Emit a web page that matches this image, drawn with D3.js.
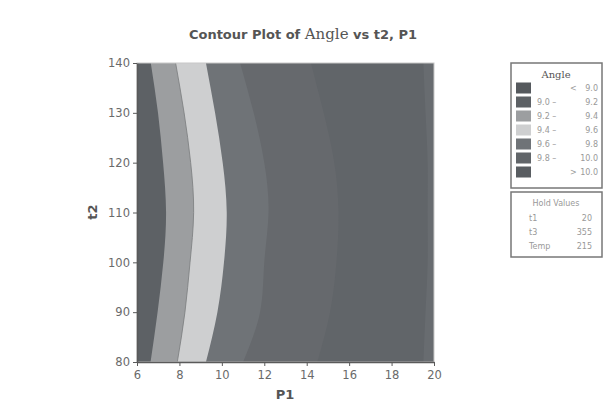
<!DOCTYPE html>
<html>
<head>
<meta charset="utf-8">
<script src="https://cdn.jsdelivr.net/npm/d3@7"></script>
<style>
  html, body { margin: 0; padding: 0; background: #fff; }
  svg { display: block; }
</style>
</head>
<body>
<svg id="chart" width="609" height="408"></svg>
<script>
// contour boundaries: P1 position of each level at t2 = 80..140
const t2Levels = [80, 90, 100, 110, 120, 130, 140];
const boundA = [6.64, 6.97, 7.24, 7.37, 7.23, 6.99, 6.65];    // 9.2
const boundB = [7.90, 8.26, 8.50, 8.67, 8.53, 8.22, 7.82];    // 9.4
const boundC = [9.25, 9.79, 10.10, 10.23, 10.04, 9.68, 9.25]; // 9.6
const boundD = [11.0, 11.8, 12.0, 12.2, 12.0, 11.5, 10.86];   // 9.8
const boundE = [14.5, 15.1, 15.4, 15.5, 15.3, 14.8, 14.2];    // 10.0
const boundF = [19.5, 19.6, 19.7, 19.7, 19.7, 19.6, 19.5];

const bandColors = ["#5d6165", "#9c9ea0", "#cecfd0", "#6f7377", "#66696d", "#616569", "#686c70"];

const legendLabels = [["<", "9.0"], ["9.0 –", "9.2"], ["9.2 –", "9.4"], ["9.4 –", "9.6"],
  ["9.6 –", "9.8"], ["9.8 –", "10.0"], [">", "10.0"]];
const legendColors = ["#55595d", "#5d6165", "#9c9ea0", "#cecfd0", "#6f7377", "#616569", "#595d61"];
const holdNames = ["t1", "t3", "Temp"];
const holdValues = ["20", "355", "215"];

const xTicks = [6, 8, 10, 12, 14, 16, 18, 20];
const yTicks = [80, 90, 100, 110, 120, 130, 140];

const svg = d3.select("#chart");
const x = d3.scaleLinear().domain([6, 20]).range([137, 434]);
const y = d3.scaleLinear().domain([80, 140]).range([362, 63]);

const plot = svg.append("g");
plot.append("rect")
  .attr("x", x(6)).attr("y", y(140))
  .attr("width", x(20) - x(6)).attr("height", y(80) - y(140))
  .attr("fill", bandColors[6]);

const area = d3.area()
  .y(d => y(d[0]))
  .x0(x(6))
  .x1(d => x(d[1]))
  .curve(d3.curveNatural);

const bounds = [boundA, boundB, boundC, boundD, boundE, boundF];
for (let i = bounds.length - 1; i >= 0; i--) {
  const pts = t2Levels.map((t, j) => [t, bounds[i][j]]);
  plot.append("path").attr("d", area(pts)).attr("fill", bandColors[i]);
}
// thin dark rim between the 9.2-9.4 and 9.4-9.6 bands
plot.append("path")
  .attr("d", d3.line().y(d => y(d[0])).x(d => x(d[1])).curve(d3.curveNatural)(t2Levels.map((t, j) => [t, boundB[j]])))
  .attr("fill", "none").attr("stroke", "#7a7c7e").attr("stroke-width", 0.8);

// frame
plot.append("rect")
  .attr("x", x(6)).attr("y", y(140))
  .attr("width", x(20) - x(6)).attr("height", y(80) - y(140))
  .attr("fill", "none").attr("stroke", "#c8c8c8").attr("stroke-width", 1);

const font = "DejaVu Sans, Verdana, sans-serif";
const xAxis = svg.append("g").attr("transform", `translate(0,${y(80)})`)
  .call(d3.axisBottom(x).tickValues(xTicks).tickSize(4).tickSizeOuter(0).tickFormat(d3.format("d")));
const yAxis = svg.append("g").attr("transform", `translate(${x(6)},0)`)
  .call(d3.axisLeft(y).tickValues(yTicks).tickSize(4).tickSizeOuter(0).tickFormat(d3.format("d")));
[xAxis, yAxis].forEach(a => {
  a.select(".domain").attr("stroke", "#5a5a5a").attr("stroke-width", 1.5);
  a.selectAll(".tick line").attr("stroke", "#5a5a5a");
  a.selectAll(".tick text").attr("fill", "#6a6a6a").attr("font-family", font).attr("font-size", 11.5);
});
xAxis.selectAll(".tick text").attr("dy", "0.9em");

svg.append("text").attr("x", 285).attr("y", 399).attr("text-anchor", "middle")
  .attr("font-family", font).attr("font-size", 13).attr("font-weight", "bold").attr("fill", "#555")
  .text("P1");
svg.append("text").attr("transform", "translate(97,212) rotate(-90)").attr("text-anchor", "middle")
  .attr("font-family", font).attr("font-size", 13).attr("font-weight", "bold").attr("fill", "#555")
  .text("t2");

const title = svg.append("text").attr("x", 303).attr("y", 39).attr("text-anchor", "middle")
  .attr("font-family", font).attr("font-size", 13).attr("font-weight", "bold").attr("fill", "#555");
title.append("tspan").text("Contour Plot of ");
title.append("tspan").attr("font-family", "DejaVu Serif, serif").attr("font-weight", "normal")
  .attr("font-size", 15).text("Angle");
title.append("tspan").text(" vs t2, P1");

// legend
const lg = svg.append("g");
lg.append("rect").attr("x", 511).attr("y", 63).attr("width", 91).attr("height", 125)
  .attr("fill", "#fff").attr("stroke", "#777").attr("stroke-width", 1.5);
lg.append("text").attr("x", 556).attr("y", 78).attr("text-anchor", "middle")
  .attr("font-family", "DejaVu Serif, serif").attr("font-size", 10).attr("fill", "#555").text("Angle");
legendLabels.forEach((lab, i) => {
  const cy = 88 + i * 14;
  lg.append("rect").attr("x", 516).attr("y", cy - 5.5).attr("width", 15).attr("height", 11)
    .attr("fill", legendColors[i]);
  lg.append("text").attr("x", lab[0].length > 1 ? 537 : 570).attr("y", cy + 3)
    .attr("font-family", font).attr("font-size", 8).attr("fill", "#999").text(lab[0]);
  lg.append("text").attr("x", 598).attr("y", cy + 3).attr("text-anchor", "end")
    .attr("font-family", font).attr("font-size", 8).attr("fill", "#999").text(lab[1]);
});

const hg = svg.append("g");
hg.append("rect").attr("x", 511).attr("y", 192).attr("width", 91).attr("height", 65)
  .attr("fill", "#fff").attr("stroke", "#777").attr("stroke-width", 1.5);
hg.append("text").attr("x", 556).attr("y", 206).attr("text-anchor", "middle")
  .attr("font-family", font).attr("font-size", 8).attr("fill", "#999").text("Hold Values");
holdNames.forEach((n, i) => {
  const yy = 221 + i * 14;
  hg.append("text").attr("x", 529).attr("y", yy)
    .attr("font-family", font).attr("font-size", 8).attr("fill", "#999").text(n);
  hg.append("text").attr("x", 592).attr("y", yy).attr("text-anchor", "end")
    .attr("font-family", font).attr("font-size", 8).attr("fill", "#999").text(holdValues[i]);
});
</script>
</body>
</html>
